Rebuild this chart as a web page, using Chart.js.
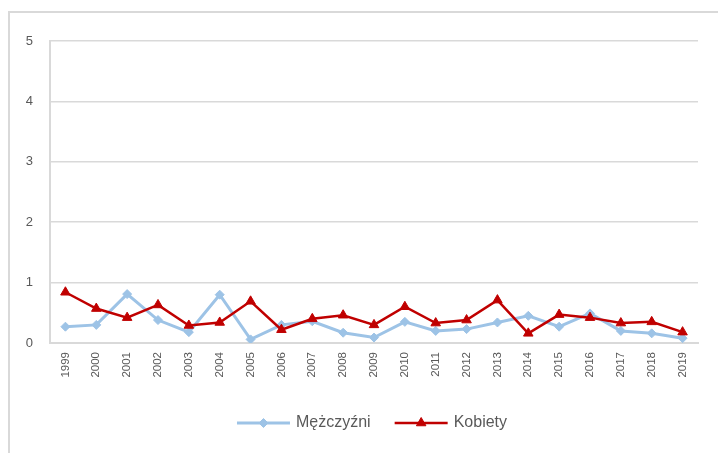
<!DOCTYPE html>
<html>
<head>
<meta charset="utf-8">
<script src="https://cdn.jsdelivr.net/npm/chart.js@4/dist/chart.umd.min.js"></script>
<style>
  html, body { margin: 0; padding: 0; background: #fff; }
  #wrap { position: relative; width: 718px; height: 453px; }
  #frame { position: absolute; left: 8px; top: 11px; width: 720px; height: 460px;
           border-left: 2px solid #d9d9d9; border-top: 2px solid #d9d9d9; box-sizing: border-box; }
  canvas { position: absolute; left: 0; top: 0; }
</style>
</head>
<body>
<div id="wrap">
  <div id="frame"></div>
  <canvas id="c" width="718" height="453"></canvas>
</div>
<script>
const years = ['1999','2000','2001','2002','2003','2004','2005','2006','2007','2008','2009','2010','2011','2012','2013','2014','2015','2016','2017','2018','2019'];
const men   = [0.27,0.30,0.81,0.38,0.18,0.80,0.06,0.30,0.36,0.17,0.09,0.35,0.20,0.23,0.34,0.45,0.27,0.49,0.20,0.16,0.08];
const women = [0.84,0.57,0.42,0.63,0.29,0.34,0.69,0.22,0.40,0.46,0.30,0.60,0.33,0.38,0.71,0.16,0.47,0.42,0.33,0.35,0.18];
const yTicks = [0,1,2,3,4,5];
const seriesNames = ['Mężczyźni','Kobiety'];

const FONT = '"Liberation Sans", Arial, sans-serif';

const legendPlugin = {
  id: 'lineLegend',
  afterDraw(chart) {
    const ctx = chart.ctx;
    const items = chart.data.datasets.map(d => ({
      label: d.label, color: d.borderColor, style: d.pointStyle, r: d.pointRadius, lw: d.borderWidth
    }));
    ctx.save();
    ctx.font = '16px ' + FONT;
    const lineLen = 53, gapText = 6, gapItem = 24;
    const widths = items.map(it => lineLen + gapText + ctx.measureText(it.label).width);
    const total = widths.reduce((a,b)=>a+b,0) + gapItem*(items.length-1);
    let x = 372 - total/2;
    const y = 423;
    items.forEach((it, i) => {
      ctx.strokeStyle = it.color;
      ctx.fillStyle = it.color;
      ctx.lineWidth = it.lw;
      ctx.beginPath(); ctx.moveTo(x, y); ctx.lineTo(x+lineLen, y); ctx.stroke();
      ctx.lineWidth = 1;
      Chart.helpers.drawPoint(ctx, {pointStyle: it.style, radius: it.r, rotation: 0, borderWidth: 1}, x+lineLen/2, y);
      ctx.fillStyle = '#595959';
      ctx.textBaseline = 'middle';
      ctx.textAlign = 'left';
      ctx.fillText(it.label, x+lineLen+gapText, y);
      x += widths[i] + gapItem;
    });
    ctx.restore();
  }
};

new Chart(document.getElementById('c'), {
  type: 'line',
  data: {
    labels: years,
    datasets: [
      { label: seriesNames[0], data: men, borderColor: '#9DC3E6', backgroundColor: '#9DC3E6',
        borderWidth: 3, pointStyle: 'rectRot', pointRadius: 4.5, pointHoverRadius: 4.5,
        pointBorderWidth: 1, pointBackgroundColor: '#9DC3E6', pointBorderColor: '#9DC3E6',
        tension: 0, order: 2 },
      { label: seriesNames[1], data: women, borderColor: '#C00000', backgroundColor: '#C00000',
        borderWidth: 2.5, pointStyle: 'triangle', pointRadius: 5.5, pointHoverRadius: 5.5,
        pointBorderWidth: 1, pointBackgroundColor: '#C00000', pointBorderColor: '#C00000',
        tension: 0, order: 1 }
    ]
  },
  options: {
    responsive: false,
    animation: false,
    events: [],
    layout: { padding: { left: 0, right: 20, top: 41, bottom: 60 } },
    plugins: { legend: { display: false }, tooltip: { enabled: false } },
    scales: {
      x: {
        offset: true,
        grid: { display: false, drawTicks: false },
        border: { display: true, color: '#d9d9d9', width: 2 },
        ticks: { maxRotation: 90, minRotation: 90, autoSkip: false, padding: 9,
                 color: '#595959', font: { family: FONT, size: 11.5 } },
        afterFit(s) { s.height = 50; }
      },
      y: {
        min: 0, max: 5,
        afterBuildTicks(s) { s.ticks = yTicks.map(v => ({ value: v })); },
        grid: { color: '#d9d9d9', lineWidth: 1.5, drawTicks: false },
        border: { display: true, color: '#d9d9d9', width: 2 },
        ticks: { padding: 17, color: '#595959', font: { family: FONT, size: 13 } },
        afterFit(s) { s.width = 50; }
      }
    }
  },
  plugins: [legendPlugin]
});
</script>
</body>
</html>
